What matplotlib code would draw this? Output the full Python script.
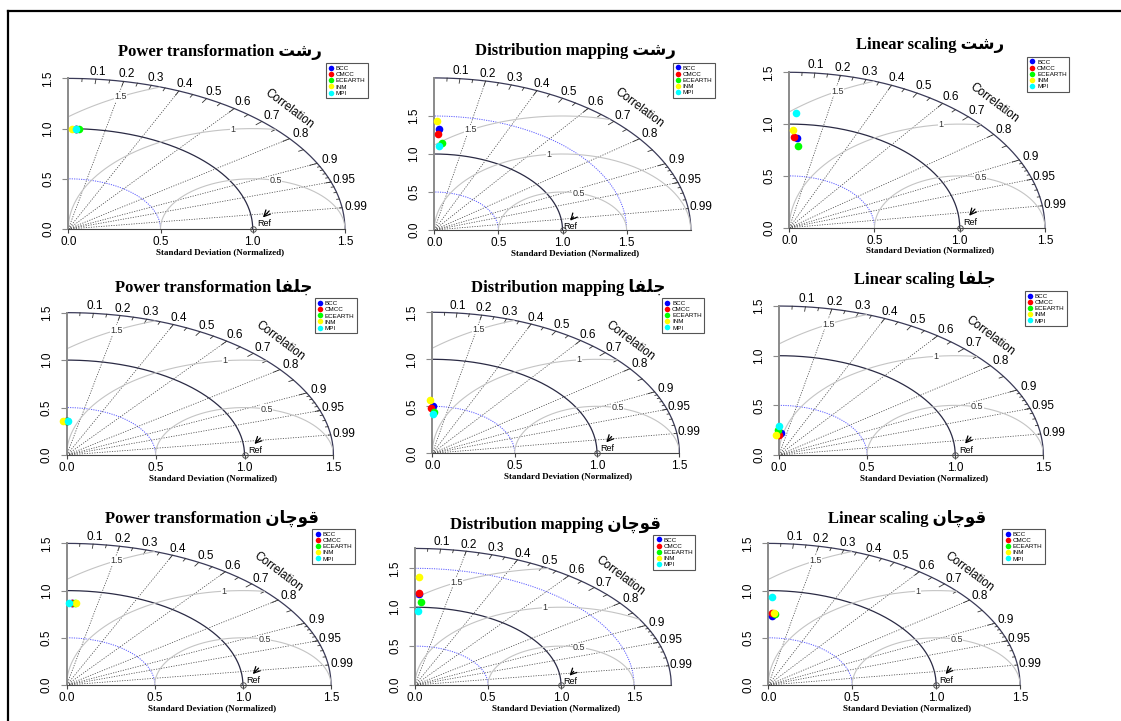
import numpy as np
import matplotlib
matplotlib.use("Agg")
import matplotlib.pyplot as plt
from matplotlib.lines import Line2D

plt.rcParams["font.family"] = ["Liberation Sans", "DejaVu Sans"]

W, H = 1121, 721

models = ["BCC", "CMCC", "ECEARTH", "INM", "MPI"]
model_colors = ["blue", "red", "#00ff00", "yellow", "cyan"]
methods = ["Power transformation", "Distribution mapping", "Linear scaling"]
# station names (Rasht, Jolfa, Quchan) written with Arabic presentation forms in
# visual order, since matplotlib does no shaping of its own
stations = ["\uFE96\uFEB7\uFEAD", "\uFE8E\uFED4\uFEE0\uFE9F", "\uFEE5\uFE8E\uFB7C\uFEEE\uFED7"]

# normalized standard deviation / correlation, rows = methods, cols = models
rasht_sd = [[1.00, 1.00, 1.00, 1.00, 1.00],
            [1.334, 1.268, 1.146, 1.44, 1.11],
            [0.87, 0.872, 0.79, 0.943, 1.105]]
rasht_cor = [[0.04, 0.04, 0.056, 0.018, 0.042],
             [0.029, 0.024, 0.05, 0.013, 0.035],
             [0.049, 0.031, 0.067, 0.021, 0.035]]
jolfa_sd = [[0.362, 0.362, 0.362, 0.362, 0.362],
            [0.507, 0.479, 0.44, 0.567, 0.418],
            [0.218, 0.205, 0.248, 0.206, 0.292]]
jolfa_cor = [[0.0, -0.01, 0.01, -0.057, 0.026],
             [0.004, -0.02, 0.023, -0.025, 0.014],
             [0.046, 0.01, -0.016, -0.083, 0.007]]
quchan_sd = [[0.87, 0.87, 0.87, 0.87, 0.87],
             [1.17, 1.183, 1.064, 1.392, 0.951],
             [0.734, 0.766, 0.75, 0.761, 0.929]]
quchan_cor = [[0.035, 0.035, 0.052, 0.058, 0.015],
              [0.021, 0.021, 0.039, 0.022, 0.019],
              [0.027, 0.031, 0.053, 0.047, 0.022]]

station_sd = [rasht_sd, jolfa_sd, quchan_sd]
station_cor = [rasht_cor, jolfa_cor, quchan_cor]

# origin of every diagram in pixels, and pixels per unit (x, y)
panel_origin = [(68.3, 229.0), (434.3, 230.0), (789.3, 227.7),
                (66.7, 455.0), (432.3, 453.3), (779.0, 455.0),
                (66.7, 685.0), (415.0, 685.0), (768.3, 685.0)]
panel_scale = [(184.4, 100.4), (128.2, 76.0), (170.4, 103.6),
               (177.8, 94.9), (164.7, 94.0), (176.2, 99.3),
               (176.2, 94.4), (146.0, 77.8), (167.8, 94.4)]


def taylor(ax, sd, cor, title):
    sd = np.asarray(sd)
    cor = np.asarray(cor)
    maxsd = 1.5 * max(1.0, sd[0])
    ax.set_xlim(0, maxsd)
    ax.set_ylim(0, maxsd)
    ax.patch.set_visible(False)
    for s in ("top", "right"):
        ax.spines[s].set_visible(False)
    ax.spines["left"].set_color("#8a8a8a")
    ax.spines["left"].set_linewidth(1.4)
    ax.spines["bottom"].set_color("#444444")
    ax.spines["bottom"].set_linewidth(0.8)

    ticks = [0.0, 0.5, 1.0, 1.5]
    ax.set_xticks(ticks, [f"{t:.1f}" for t in ticks])
    ax.set_yticks(ticks, [f"{t:.1f}" for t in ticks])
    ax.tick_params(axis="x", length=3, pad=2, labelsize=8.5, color="#444444")
    ax.tick_params(axis="y", length=4, pad=6, labelsize=8.5, color="#8a8a8a",
                   labelrotation=90)
    for lab in ax.get_yticklabels():
        lab.set_va("center")

    t = np.linspace(0, np.pi / 2, 200)
    # sd arcs
    ax.plot(maxsd * np.cos(t), maxsd * np.sin(t), color="#3a3a58", lw=0.9, clip_on=False)
    ax.plot(np.cos(t), np.sin(t), color="#2a2a44", lw=0.9)
    for r in (0.5, 1.5):
        if r < maxsd - 1e-6:
            ax.plot(r * np.cos(t), r * np.sin(t), color="#5b5bff", lw=0.7,
                    ls=(0, (1.2, 1.2)))

    # correlation rays
    for c in (0.2, 0.4, 0.6, 0.8, 0.9, 0.95, 0.99):
        ax.plot([0, maxsd * c], [0, maxsd * np.sqrt(1 - c * c)], color="#444444",
                lw=0.55, ls=(0, (1.5, 1.8)))

    # correlation ticks on the outer arc
    tick_sets = [(np.arange(0.1, 0.95, 0.1), 0.97),
                 (np.arange(0.05, 1.0, 0.1), 0.98),
                 (np.arange(0.91, 0.995, 0.01), 0.99)]
    for cs, f in tick_sets:
        for c in cs:
            s = np.sqrt(1 - c * c)
            ax.plot([f * maxsd * c, maxsd * c], [f * maxsd * s, maxsd * s],
                    color="#333333", lw=0.6, clip_on=False)
    for c in [0.1, 0.2, 0.3, 0.4, 0.5, 0.6, 0.7, 0.8, 0.9, 0.95, 0.99]:
        s = np.sqrt(1 - c * c)
        ax.text(1.05 * maxsd * c, 1.05 * maxsd * s, f"{c:g}", ha="center",
                va="center", fontsize=8.5, clip_on=False)
    ax.text(0.8 * maxsd, 0.8 * maxsd, "Correlation", rotation=-37,
            rotation_mode="anchor", ha="center", va="center", fontsize=8.5)

    # centred RMS contours
    th = np.linspace(0, np.pi, 400)
    for g, tl in zip((0.5, 1.0, 1.5), (1.32, 1.68, 2.07)):
        x = 1 + g * np.cos(th)
        y = g * np.sin(th)
        keep = (x >= 0) & (x * x + y * y <= maxsd ** 2)
        ax.plot(x[keep], y[keep], color="#c4c4c4", lw=0.8)
        ax.text(1 + g * np.cos(tl), g * np.sin(tl), f"{g:g}", fontsize=6.5,
                ha="center", va="center", color="#333333",
                bbox=dict(fc="white", ec="none", pad=0.2))

    # reference point
    ax.plot(1, 0, "o", mfc="none", mec="#555555", ms=4, mew=0.7, clip_on=False)
    ax.annotate("", xy=(1.045, 0.095), xytext=(1.1, 0.2),
                arrowprops=dict(arrowstyle="->", lw=0.9, color="black",
                                mutation_scale=11))
    ax.text(1.06, 0.05, "Ref", fontsize=6.5, ha="center", va="center")

    # models
    for i in range(len(models)):
        x = sd[i] * cor[i]
        y = sd[i] * np.sqrt(1 - cor[i] ** 2)
        ax.plot(x, y, "o", color=model_colors[i], ms=5.5, mec="none", clip_on=False,
                zorder=5)

    handles = [Line2D([], [], marker="o", ls="none", color=c, ms=4, mec="none")
               for c in model_colors]
    leg = ax.legend(handles, models, loc="upper left",
                    bbox_to_anchor=(0.93 * maxsd, 1.1 * maxsd),
                    bbox_transform=ax.transData, fontsize=4.5, frameon=True,
                    fancybox=False, edgecolor="#555555", framealpha=1,
                    borderpad=0.4, labelspacing=0.12, handlelength=0.9,
                    handletextpad=0.3, borderaxespad=0)
    leg.get_frame().set_linewidth(0.8)

    ax.text(0.55 * maxsd, 1.177 * maxsd, title, ha="center", va="center",
            fontsize=12, fontweight="bold",
            family=["Liberation Serif", "DejaVu Sans"])
    ax.annotate("Standard Deviation (Normalized)", xy=(0.55 * maxsd, 0),
                xycoords="data", xytext=(0, -16.5), textcoords="offset points",
                ha="center", va="center", fontsize=6.5, fontweight="bold",
                family="Liberation Serif")
    return maxsd


fig = plt.figure(figsize=(W / 100, H / 100), dpi=100)

for row in range(3):
    for col in range(3):
        k = row * 3 + col
        sd = station_sd[row][col]
        cor = station_cor[row][col]
        maxsd = 1.5 * max(1.0, sd[0])
        ox, oy = panel_origin[k]
        sx, sy = panel_scale[k]
        ax = fig.add_axes([ox / W, 1 - oy / H, maxsd * sx / W, maxsd * sy / H])
        taylor(ax, sd, cor, f"{methods[col]} {stations[row]}")

# page frame (left and top edges)
fig.add_artist(Line2D([8 / W, 8 / W], [0, 1 - 11 / H], transform=fig.transFigure,
                      color="black", lw=1.6))
fig.add_artist(Line2D([8 / W, 1], [1 - 11 / H, 1 - 11 / H],
                      transform=fig.transFigure, color="black", lw=1.6))

fig.savefig("out.png", dpi=100)
